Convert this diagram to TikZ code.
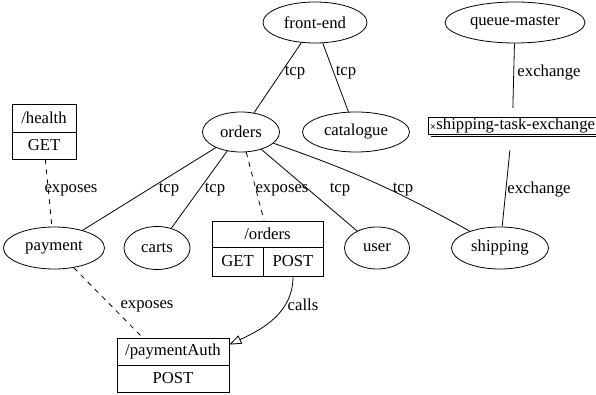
\documentclass[tikz,border=0pt]{standalone}
\usepackage{fontspec}
\setmainfont{Liberation Serif}
\newfontfamily\symfont{DejaVu Sans}
\usetikzlibrary{arrows.meta,shapes.geometric}
\tikzset{
  base/.style={font=\fontsize{16.7}{20}\selectfont, inner sep=0pt},
  svc/.style={base, ellipse, draw, line width=0.8pt, minimum height=41pt},
  rec/.style={base, rectangle, draw, line width=0.8pt},
  lbl/.style={base},
  edge/.style={line width=0.8pt},
  dedge/.style={line width=0.8pt, dash pattern=on 5pt off 5pt},
}
\begin{document}
\begin{tikzpicture}[x=1pt,y=-1pt]
\useasboundingbox (0,0) rectangle (596,395);
% services
\node[svc, minimum width=104pt] (fe) at (315,22.5) {front-end};
\node[svc, minimum width=140pt] (qm) at (515,22.5) {queue-master};
\node[svc, minimum width=77pt, minimum height=40pt] (orders) at (241,132) {orders};
\node[svc, minimum width=107pt, minimum height=40pt] (cat) at (356,132) {catalogue};
\node[svc, minimum width=101pt, minimum height=42pt] (payment) at (54,248) {payment};
\node[svc, minimum width=66pt, minimum height=43pt] (carts) at (157,248) {carts};
\node[svc, minimum width=65pt, minimum height=42pt] (user) at (377,248) {user};
\node[svc, minimum width=97pt, minimum height=42pt] (shipping) at (500,248) {shipping};
% records
\node[rec, minimum width=64pt, minimum height=28pt] (hTop) at (44,118) {/health};
\node[rec, minimum width=64pt, minimum height=27pt] (hBot) at (44,145.5) {GET};
\node[rec, minimum width=111pt, minimum height=26pt] (oTop) at (267.5,234) {/orders};
\node[rec, minimum width=51pt, minimum height=29pt] (oGet) at (237.5,261.5) {GET};
\node[rec, minimum width=60pt, minimum height=29pt] (oPost) at (293,261.5) {POST};
\node[rec, minimum width=112pt, minimum height=27pt] (paTop) at (173,351.5) {/paymentAuth};
\node[rec, minimum width=112pt, minimum height=27pt] (paBot) at (173,378.5) {POST};
\node[rec, minimum width=168pt, minimum height=17pt, anchor=west] (ste) at (428,125.5) {{\symfont\fontsize{8}{8}\selectfont ×}shipping-task-exchange};
\draw[line width=0.8pt] ([xshift=3pt,yshift=-2.3pt]ste.south west) -- ([yshift=-2.3pt]ste.south east);
\coordinate (paIn) at (143,338);
% edges
\draw[edge] (fe) -- (orders);
\draw[edge] (fe) -- (cat);
\draw[edge, shorten >=9pt] (qm) -- (ste);
\draw[edge, shorten <=16pt] (ste) -- (shipping);
\draw[edge] (orders) -- (payment);
\draw[edge] (orders) -- (carts);
\draw[dedge] (orders) -- (oTop);
\draw[edge] (orders) -- (user);
\draw[edge] (orders) to[bend left=5] (shipping);
\draw[dedge] (hBot) -- (payment);
\draw[dedge] (payment.-45) -- (paIn);
\draw[edge, -{Triangle[open, length=12pt, width=9pt]}] (oPost.south) to[out=-90, in=25] (paTop.7);
% labels
\node[lbl] (l1) at (295,73) {tcp};
\node[lbl] (l2) at (346,73) {tcp};
\node[lbl] (l3) at (549,73) {exchange};
\node[lbl] (l4) at (71,190) {exposes};
\node[lbl] (l5) at (169,190) {tcp};
\node[lbl] (l6) at (215,190) {tcp};
\node[lbl] (l7) at (282,190) {exposes};
\node[lbl] (l8) at (340,190) {tcp};
\node[lbl] (l9) at (403,190) {tcp};
\node[lbl] (l10) at (539,190) {exchange};
\node[lbl] (l11) at (147,306) {exposes};
\node[lbl] (l12) at (303,305) {calls};
\end{tikzpicture}
\end{document}
